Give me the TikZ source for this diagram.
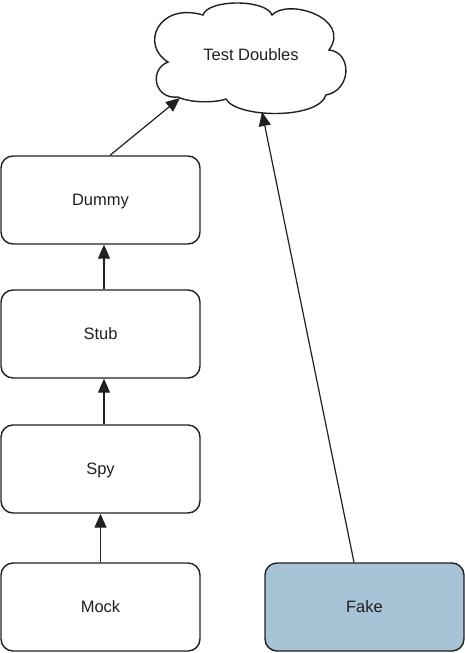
\documentclass[tikz,border=0pt]{standalone}
\usepackage{fontspec}
\setmainfont{Liberation Sans}
\usetikzlibrary{arrows.meta}
\definecolor{fakeblue}{HTML}{A7C3D6}
\definecolor{edge}{HTML}{231F20}
\tikzset{
  lbl/.style={font=\fontsize{16.5}{19}\selectfont, text=edge, text height=11.8pt, text depth=0pt},
  box/.style={lbl, draw=edge, line width=1.4pt, rounded corners=12pt, minimum width=199pt, minimum height=88pt, inner sep=0pt},
  arr/.style={draw=edge, line width=1.2pt, -{Triangle[length=14pt,width=12pt]}},
}
\begin{document}
\begin{tikzpicture}[x=1pt,y=-1pt]
\useasboundingbox (0,0) rectangle (465,653);
\node[box] (dummy) at (100.5,200) {Dummy};
\node[box] (stub) at (100.5,334) {Stub};
\node[box] (spy) at (100.5,469) {Spy};
\node[box] (mock) at (100.5,607) {Mock};
\node[box, fill=fakeblue] (fake) at (364.5,607) {Fake};
\draw[edge, line width=1.4pt] (203,15) .. controls (208,-1) and (266,-1) .. (272,15)
  .. controls (288,-2) and (352,18) .. (329,50)
  .. controls (352,52) and (352,90) .. (326,95)
  .. controls (318,120) and (236,118) .. (226,99)
  .. controls (215,103) and (190,103) .. (178,97)
  .. controls (155,100) and (148,70) .. (168,62)
  .. controls (140,45) and (158,2) .. cycle;
\node[lbl] (td) at (251,55) {Test Doubles};
\coordinate (c1) at (180,98);
\coordinate (c2) at (262,112);
\draw[arr] (stub.north -| 104,0) -- (dummy.south -| 104,0);
\draw[arr] (spy.north -| 104,0) -- (stub.south -| 104,0);
\draw[arr] (mock.north) -- (spy.south);
\draw[arr] (dummy.north -| 110,0) -- (c1);
\draw[arr] (fake.north -| 354,0) -- (c2);
\end{tikzpicture}
\end{document}
